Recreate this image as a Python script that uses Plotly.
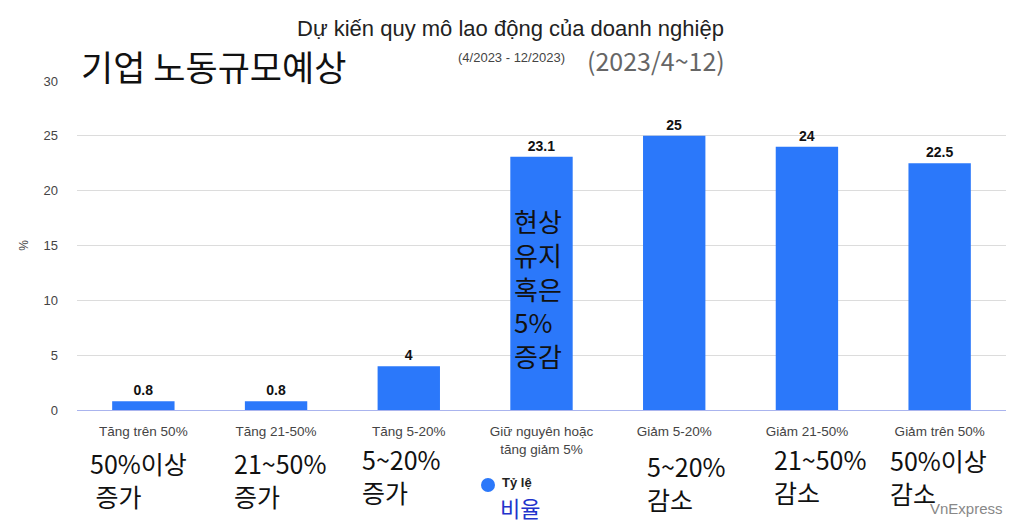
import plotly.graph_objects as go

categories = ["Tăng trên 50%", "Tăng 21-50%", "Tăng 5-20%", "Giữ nguyên hoặc<br>tăng giảm 5%",
              "Giảm 5-20%", "Giảm 21-50%", "Giảm trên 50%"]
values = [0.8, 0.8, 4, 23.1, 25, 24, 22.5]
value_labels = ["0.8", "0.8", "4", "23.1", "25", "24", "22.5"]
korean_labels = ["50%이상<br> 증가", "21~50%<br>증가", "5~20%<br>증가", "",
                 "5~20%<br>감소", "21~50%<br>감소", "50%이상<br>감소"]
y_ticks = [0, 5, 10, 15, 20, 25, 30]

BLUE = "#2b78fa"
KR = "Noto Sans CJK KR"
AR = "Liberation Sans, Arial"

# plot area in reference pixels
L, R, T, B = 77, 1006, 81, 410
OFF = 8  # page body margin


def xp(px):
    return (px - L) / (R - L)


def yp(py):
    return (B - py) / (B - T)


fig = go.Figure()
fig.add_trace(go.Bar(
    x=categories, y=values, marker=dict(color=BLUE, line=dict(width=0)),
    width=0.47, text=value_labels, textposition="outside",
    textfont=dict(family=AR, size=14, color="#111", weight="bold"), cliponaxis=False,
    showlegend=False,
))

W, H = 1024 - OFF, 523 - OFF
fig.update_layout(
    width=W, height=H,
    margin=dict(l=L - OFF, r=W - (R - OFF), t=T - OFF, b=H - (B - OFF), pad=0),
    paper_bgcolor="white", plot_bgcolor="white",
    font=dict(family=AR, color="#444"),
)
fig.update_xaxes(showgrid=False, showline=True, linecolor="#aab4ee", linewidth=1,
                 ticks="", ticklabelstandoff=9,
                 tickfont=dict(size=13.5, color="#444", family=AR), fixedrange=True)
fig.update_yaxes(range=[0, 30], tickvals=y_ticks, showgrid=True, gridcolor="#dcdcdc",
                 zeroline=False, showline=False, ticks="", ticklabelstandoff=18,
                 tickfont=dict(size=13, color="#444", family=AR),
                 title=dict(text="%", font=dict(size=12, color="#444"), standoff=12))

annotations = []


def add(text, x, y, size, color, family, xanchor="center", align="center", bold=False):
    annotations.append(dict(
        text=text, x=xp(x), y=yp(y), xref="paper", yref="paper", showarrow=False,
        xanchor=xanchor, yanchor="middle", align=align,
        font=dict(family=family, size=size, color=color, weight="bold" if bold else "normal"),
    ))


add("Dự kiến quy mô lao động của doanh nghiệp", 510, 28, 22, "#222", AR)
add("기업 노동규모예상", 79, 65, 35, "#111", KR, xanchor="left")
add("(4/2023 - 12/2023)", 511, 57, 13, "#444", AR)
add("(2023/4~12)", 656, 60, 25, "#666", KR)
add("VnExpress", 1005, 508, 15, "#888", AR, xanchor="right")

# Korean translations under category labels
kr_left = [88, 232, 360, 0, 645, 772, 888]
kr_y = [479, 479, 475, 0, 482, 475, 476]
for i, t in enumerate(korean_labels):
    if not t:
        continue
    add(t, kr_left[i], kr_y[i], 25, "#111", KR, xanchor="left", align="left")

# Korean text inside middle bar
add("현상<br>유지<br>혹은<br>5%<br>증감", 512, 288, 26, "#111", KR, xanchor="left", align="left")

# Legend imitation
add("Tỷ lệ", 500, 483, 13, "#222", AR, xanchor="left", bold=True)
add("비율", 498, 507, 22, "#2233cc", KR, xanchor="left")

fig.update_layout(annotations=annotations)
fig.add_shape(type="circle", xref="paper", yref="paper",
              x0=xp(481), x1=xp(495), y0=yp(492), y1=yp(478),
              fillcolor=BLUE, line=dict(width=0))

fig.write_html("out.html")
